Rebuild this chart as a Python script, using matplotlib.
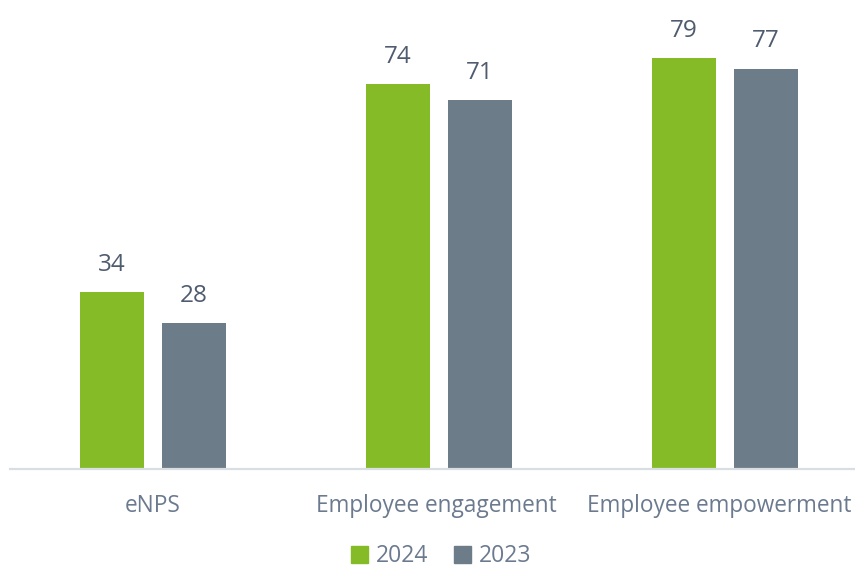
import numpy as np
import matplotlib.pyplot as plt
import matplotlib.transforms as mtransforms
from matplotlib.patches import Patch

categories = ["eNPS", "Employee engagement", "Employee empowerment"]
series_names = ["2024", "2023"]
values_2024 = [34, 74, 79]
values_2023 = [28, 71, 77]

green = "#86BB28"
grey = "#6D7C89"
label_col = "#6B7A8F"
value_col = "#4F5B6E"

plt.rcParams['font.family'] = ['Open Sans', 'DejaVu Sans']

fig = plt.figure(figsize=(8.55, 5.67), dpi=100)
ax = fig.add_axes([10 / 855, 98 / 567, 845 / 855, 469 / 567])

x = np.arange(len(categories))
w = 0.2238
off = 0.1434
b1 = ax.bar(x - off, values_2024, w, color=green, label=series_names[0])
b2 = ax.bar(x + off, values_2023, w, color=grey, label=series_names[1])

for bars in (b1, b2):
    for r in bars:
        ax.annotate(f"{r.get_height():.0f}", (r.get_x() + r.get_width() / 2, r.get_height()),
                    xytext=(0, 11), textcoords="offset points", ha="center", va="bottom",
                    fontsize=17.5, color=value_col)

ax.set_xlim(-0.5, 2.4545)
ax.set_ylim(0, 90.2)
ax.set_yticks([])
ax.set_xticks(x)
ax.set_xticklabels(categories, fontsize=16.3, color=label_col)
ax.tick_params(axis='x', length=0, pad=18)
# the last label is nudged left so it stays inside the picture
shifts = [0, -3, -6]
for lab, dx in zip(ax.get_xticklabels(), shifts):
    lab.set_transform(lab.get_transform() + mtransforms.ScaledTranslation(dx / 100, 0, fig.dpi_scale_trans))
for s in ['top', 'right', 'left']:
    ax.spines[s].set_visible(False)
ax.spines['bottom'].set_color('#D9DEE3')
ax.spines['bottom'].set_linewidth(1.6)

handles = [Patch(color=green), Patch(color=grey)]
fig.legend(handles, series_names, loc='center', bbox_to_anchor=(441 / 855, 1 - 556.5 / 567),
           ncol=2, frameon=False, fontsize=16.5, labelcolor=label_col,
           handlelength=0.75, handleheight=0.75, handletextpad=0.35, columnspacing=1.1,
           borderpad=0.1)

fig.savefig("out.png", dpi=100)
